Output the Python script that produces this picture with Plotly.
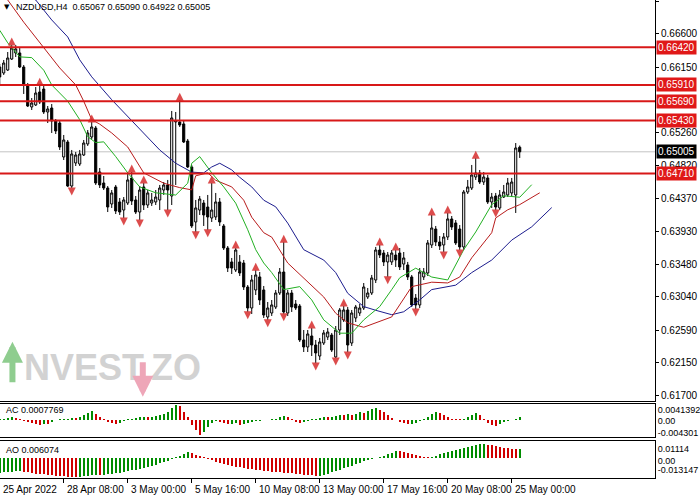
import plotly.graph_objects as go

# ---------------- data ----------------
opens = [0.66153, 0.66072, 0.66112, 0.66261, 0.66343, 0.66343, 0.66153, 0.65909, 0.65612, 0.65639,
         0.65815, 0.65855, 0.65544, 0.65598, 0.65422, 0.65395, 0.64935, 0.65138, 0.64542, 0.64854,
         0.64840, 0.64962, 0.65111, 0.65206, 0.65327, 0.64732, 0.64583, 0.64515, 0.64299, 0.64529,
         0.64326, 0.64217, 0.64312, 0.64651, 0.64353, 0.64190, 0.64529, 0.64285, 0.64312, 0.64326,
         0.64353, 0.64488, 0.64556, 0.64407, 0.65409, 0.65409, 0.65382, 0.65151, 0.64800, 0.64055,
         0.64217, 0.64312, 0.64258, 0.64109, 0.64123, 0.64326, 0.64001, 0.63703, 0.63514, 0.63405,
         0.63514, 0.63500, 0.63175, 0.62891, 0.63135, 0.63311, 0.63135, 0.62769, 0.62823, 0.62904,
         0.63094, 0.63378, 0.62823, 0.63094, 0.62945, 0.62918, 0.62458, 0.62363, 0.62512, 0.62390,
         0.62241, 0.62417, 0.62498, 0.62525, 0.62228, 0.62593, 0.62729, 0.62864, 0.62417, 0.62756,
         0.62823, 0.62891, 0.63040, 0.63094, 0.63270, 0.63676, 0.63635, 0.63514, 0.63514, 0.63608,
         0.63635, 0.63486, 0.63473, 0.63311, 0.63026, 0.62932, 0.63311, 0.63365, 0.63744, 0.63960,
         0.63784, 0.63744, 0.63852, 0.64096, 0.64042, 0.63960, 0.63717, 0.64461, 0.64515, 0.64664,
         0.64718, 0.64596, 0.64651, 0.64326, 0.64407, 0.64245, 0.64393, 0.64421, 0.64448, 0.64421,
         0.65067]
closes = [0.66018, 0.66207, 0.66275, 0.66410, 0.66397, 0.66153, 0.65909, 0.65625, 0.65666, 0.65801,
          0.65679, 0.65544, 0.65585, 0.65422, 0.65287, 0.65070, 0.65165, 0.64542, 0.64976, 0.64962,
          0.64976, 0.65124, 0.65260, 0.65341, 0.64583, 0.64556, 0.64515, 0.64258, 0.64448, 0.64204,
          0.64190, 0.64353, 0.64624, 0.64339, 0.64190, 0.64488, 0.64285, 0.64448, 0.64353, 0.64393,
          0.64515, 0.64556, 0.64488, 0.65463, 0.65422, 0.65368, 0.65138, 0.64800, 0.64001, 0.64245,
          0.64366, 0.64150, 0.64123, 0.64217, 0.64326, 0.64055, 0.63703, 0.63432, 0.63432, 0.63676,
          0.63365, 0.63175, 0.62891, 0.63270, 0.63338, 0.62999, 0.62796, 0.62891, 0.62932, 0.63094,
          0.63378, 0.62837, 0.63094, 0.62904, 0.62891, 0.62458, 0.62363, 0.62539, 0.62390, 0.62282,
          0.62431, 0.62553, 0.62566, 0.62322, 0.62593, 0.62864, 0.62864, 0.62390, 0.62823, 0.62904,
          0.62891, 0.63175, 0.63094, 0.63297, 0.63676, 0.63608, 0.63514, 0.63608, 0.63635, 0.63541,
          0.63446, 0.63568, 0.63311, 0.62932, 0.62932, 0.63378, 0.63378, 0.63771, 0.63974, 0.63784,
          0.63730, 0.63852, 0.64096, 0.63987, 0.63771, 0.63717, 0.64461, 0.64529, 0.64691, 0.64718,
          0.64596, 0.64664, 0.64326, 0.64393, 0.64258, 0.64421, 0.64461, 0.64583, 0.64596, 0.65057,
          0.65005]
highs = [0.66194, 0.66248, 0.66356, 0.66451, 0.66451, 0.66410, 0.66180, 0.65937, 0.65733, 0.65882,
         0.65909, 0.65896, 0.65625, 0.65652, 0.65449, 0.65422, 0.65233, 0.65165, 0.65030, 0.65003,
         0.65030, 0.65165, 0.65300, 0.65409, 0.65355, 0.64786, 0.64678, 0.64542, 0.64488, 0.64556,
         0.64380, 0.64393, 0.64732, 0.64732, 0.64407, 0.64542, 0.64583, 0.64488, 0.64448, 0.64488,
         0.64556, 0.64596, 0.64624, 0.65558, 0.65544, 0.65706, 0.65436, 0.65179, 0.64827, 0.64353,
         0.64407, 0.64353, 0.64421, 0.64583, 0.64448, 0.64380, 0.64028, 0.63730, 0.63568, 0.63703,
         0.63608, 0.63541, 0.63202, 0.63338, 0.63405, 0.63378, 0.63189, 0.62972, 0.62999, 0.63135,
         0.63432, 0.63784, 0.63135, 0.63135, 0.62999, 0.62945, 0.62593, 0.62593, 0.62620, 0.62458,
         0.62485, 0.62593, 0.62620, 0.62553, 0.62647, 0.62891, 0.62918, 0.62904, 0.62864, 0.62932,
         0.62945, 0.63229, 0.63162, 0.63338, 0.63717, 0.63744, 0.63676, 0.63649, 0.63676, 0.63676,
         0.63703, 0.63649, 0.63514, 0.63338, 0.63080, 0.63432, 0.63432, 0.63811, 0.64150, 0.64001,
         0.63865, 0.63906, 0.64177, 0.64136, 0.64082, 0.64014, 0.64488, 0.64624, 0.64827, 0.64921,
         0.64759, 0.64732, 0.64691, 0.64448, 0.64448, 0.64488, 0.64556, 0.64651, 0.64651, 0.65124,
         0.65090]
lows = [0.65896, 0.66045, 0.66099, 0.66248, 0.66288, 0.66140, 0.65788, 0.65612, 0.65571, 0.65625,
        0.65652, 0.65517, 0.65395, 0.65260, 0.65246, 0.65030, 0.64894, 0.64529, 0.64515, 0.64813,
        0.64813, 0.64948, 0.65084, 0.65179, 0.64556, 0.64515, 0.64488, 0.64190, 0.64245, 0.64163,
        0.64150, 0.64109, 0.64285, 0.64285, 0.64163, 0.64082, 0.64217, 0.64245, 0.64272, 0.64285,
        0.64217, 0.64421, 0.64217, 0.64285, 0.64556, 0.65341, 0.65124, 0.64786, 0.63974, 0.63920,
        0.64150, 0.64001, 0.63947, 0.64055, 0.64082, 0.64001, 0.63676, 0.63378, 0.63351, 0.63378,
        0.63324, 0.63135, 0.62837, 0.62810, 0.63067, 0.62932, 0.62756, 0.62729, 0.62783, 0.62877,
        0.63067, 0.62810, 0.62783, 0.62837, 0.62864, 0.62431, 0.62295, 0.62295, 0.62241, 0.62146,
        0.62187, 0.62390, 0.62458, 0.62295, 0.62214, 0.62525, 0.62701, 0.62295, 0.62377, 0.62701,
        0.62783, 0.62864, 0.63013, 0.63067, 0.63229, 0.63568, 0.63459, 0.63311, 0.63473, 0.63446,
        0.63405, 0.63405, 0.63270, 0.62904, 0.62877, 0.62891, 0.63270, 0.63324, 0.63703, 0.63730,
        0.63676, 0.63649, 0.63811, 0.63947, 0.63744, 0.63676, 0.63676, 0.64434, 0.64488, 0.64624,
        0.64569, 0.64556, 0.64299, 0.64245, 0.64217, 0.64217, 0.64380, 0.64393, 0.64407, 0.64177,
        0.64922]

# Alligator lines (bar index, price)
jaw_idx = [7, 9, 13, 17, 20, 23, 28, 32, 36, 40, 44, 48, 51, 53, 55, 58, 60, 63, 66, 69, 72, 76, 81, 84,
           87, 91, 94, 98, 101, 105, 108, 112, 114, 118, 123, 128, 133, 138]
jaw_val = [0.6713, 0.6706, 0.6679, 0.6656, 0.6625, 0.6602, 0.6571, 0.6548, 0.6526, 0.6503, 0.6485, 0.6473,
           0.6472, 0.6480, 0.6485, 0.6476, 0.6466, 0.6453, 0.6435, 0.6426, 0.6404, 0.6368, 0.6354, 0.6337,
           0.6309, 0.6291, 0.6286, 0.6280, 0.6284, 0.6300, 0.6314, 0.6318, 0.6320, 0.6337, 0.6354, 0.6381,
           0.6399, 0.6425]
teeth_idx = [0, 2, 6, 11, 15, 19, 21, 23, 25, 28, 32, 36, 41, 45, 48, 49, 52, 54, 58, 61, 63, 66, 68, 72,
             76, 81, 84, 87, 91, 94, 98, 103, 108, 112, 115, 118, 123, 124, 127, 130, 135]
teeth_val = [0.6725, 0.6706, 0.6676, 0.6642, 0.6614, 0.6591, 0.6569, 0.6544, 0.6538, 0.6526, 0.6507, 0.6472,
             0.6458, 0.6452, 0.6449, 0.6468, 0.6472, 0.6462, 0.6453, 0.6435, 0.6412, 0.6391, 0.6385, 0.6350,
             0.6330, 0.6304, 0.6282, 0.6269, 0.6263, 0.6269, 0.6277, 0.6318, 0.6324, 0.6323, 0.6331, 0.6357,
             0.6391, 0.6411, 0.6422, 0.6429, 0.6445]
lips_idx = [0, 2, 5, 8, 11, 13, 17, 20, 22, 24, 26, 29, 32, 35, 39, 44, 47, 48, 50, 52, 53, 56, 59, 62,
            64, 66, 68, 71, 75, 78, 81, 85, 88, 91, 95, 98, 100, 104, 108, 112, 116, 119, 123, 126, 130, 133]
lips_val = [0.6665, 0.6648, 0.6629, 0.6628, 0.6611, 0.6591, 0.6569, 0.6544, 0.6521, 0.6513, 0.6514, 0.6494,
            0.6472, 0.6453, 0.6445, 0.6442, 0.6458, 0.6485, 0.6494, 0.6479, 0.6472, 0.6453, 0.6431, 0.6395,
            0.6368, 0.6350, 0.6337, 0.6314, 0.6318, 0.6300, 0.6273, 0.6255, 0.6255, 0.6273, 0.6291, 0.6314,
            0.6330, 0.6343, 0.6331, 0.6327, 0.6368, 0.6392, 0.6429, 0.6441, 0.6439, 0.6456]

# Fractals (bar indices)
up_fractals = [3, 10, 23, 33, 36, 45, 53, 59, 64, 71, 78, 86, 95, 99, 108, 112, 119]
down_fractals = [18, 31, 35, 42, 49, 52, 62, 67, 71, 79, 84, 87, 97, 104, 111, 115, 124]

# Horizontal levels
levels = [0.66420, 0.65910, 0.65690, 0.65430, 0.64710]
last_price = 0.65005

# Accelerator oscillator
ac_vals = [0.0002, 0.0004, 0.0006, 0.0008, 0.0006, 0.0003, -0.0002, -0.0005, -0.0008, -0.0010,
           -0.0012, -0.0009, -0.0011, -0.0004, 0.0000, 0.0002, 0.0003, 0.0004, 0.0006, 0.0005,
           0.0009, 0.0014, 0.0019, 0.0023, 0.0017, 0.0009, 0.0002, -0.0004, -0.0008, -0.0010,
           -0.0007, -0.0003, 0.0002, 0.0004, 0.0006, 0.0007, 0.0008, 0.0007, 0.0009, 0.0011,
           0.0012, 0.0016, 0.0021, 0.0030, 0.0038, 0.0036, 0.0022, 0.0008, -0.0012, -0.0026,
           -0.0038, -0.0030, -0.0018, -0.0006, -0.0002, -0.0004, -0.0008, -0.0011, -0.0010, -0.0008,
           -0.0012, -0.0010, -0.0007, -0.0004, -0.0002, -0.0001, 0.0001, 0.0000, 0.0002, 0.0004,
           0.0008, 0.0011, 0.0007, 0.0002, -0.0004, -0.0008, -0.0005, -0.0002, 0.0002, 0.0004,
           0.0006, 0.0008, 0.0007, 0.0009, 0.0011, 0.0013, 0.0012, 0.0015, 0.0013, 0.0017,
           0.0020, 0.0019, 0.0024, 0.0028, 0.0031, 0.0027, 0.0021, 0.0014, 0.0006, 0.0001,
           -0.0004, -0.0008, -0.0011, -0.0009, -0.0006, -0.0003, 0.0002, 0.0009, 0.0016, 0.0022,
           0.0018, 0.0012, 0.0007, 0.0004, 0.0003, 0.0002, 0.0004, 0.0009, 0.0014, 0.0019,
           0.0013, 0.0003, -0.0007, -0.0013, -0.0016, -0.0010, -0.0005, -0.0002, 0.0001, 0.0004,
           0.0007769]

# Awesome oscillator
ao_vals = [-0.0098, -0.0095, -0.0092, -0.0090, -0.0088, -0.0087, -0.0090, -0.0095, -0.0099, -0.0102,
           -0.0104, -0.0107, -0.0110, -0.0113, -0.0116, -0.0118, -0.0120, -0.0122, -0.0124, -0.0125,
           -0.0123, -0.0121, -0.0118, -0.0114, -0.0112, -0.0113, -0.0111, -0.0108, -0.0104, -0.0100,
           -0.0096, -0.0092, -0.0086, -0.0080, -0.0076, -0.0070, -0.0063, -0.0057, -0.0050, -0.0043,
           -0.0036, -0.0028, -0.0020, -0.0008, 0.0005, 0.0015, 0.0026, 0.0036, 0.0031, 0.0022,
           0.0012, 0.0004, -0.0008, -0.0016, -0.0024, -0.0031, -0.0038, -0.0045, -0.0051, -0.0056,
           -0.0061, -0.0066, -0.0071, -0.0075, -0.0078, -0.0081, -0.0084, -0.0087, -0.0090, -0.0092,
           -0.0094, -0.0097, -0.0099, -0.0101, -0.0104, -0.0107, -0.0110, -0.0112, -0.0115, -0.0117,
           -0.0116, -0.0110, -0.0102, -0.0094, -0.0086, -0.0077, -0.0068, -0.0059, -0.0050, -0.0041,
           -0.0032, -0.0023, -0.0015, -0.0008, -0.0002, 0.0006, 0.0015, 0.0025, 0.0035, 0.0046,
           0.0044, 0.0040, 0.0035, 0.0028, 0.0020, 0.0012, 0.0006, 0.0004, 0.0009, 0.0016,
           0.0024, 0.0031, 0.0038, 0.0045, 0.0052, 0.0058, 0.0064, 0.0071, 0.0078, 0.0085,
           0.0090, 0.0092, 0.0088, 0.0083, 0.0078, 0.0072, 0.0067, 0.0063, 0.0060, 0.0057,
           0.006074]

price_ticks = [0.67040, 0.66600, 0.66150, 0.65260, 0.64820, 0.64370, 0.63930, 0.63480,
               0.63040, 0.62590, 0.62150, 0.61700]
date_tick_idx = [0, 16, 32, 48, 64, 80, 96, 112, 128]
date_labels = ["25 Apr 2022", "28 Apr 08:00", "3 May 00:00", "5 May 16:00", "10 May 08:00",
               "13 May 00:00", "17 May 16:00", "20 May 08:00", "25 May 00:00"]
symbol = "NZDUSD,H4"

# ---------------- figure ----------------
n = len(opens)
idx = list(range(n))
FONT = "Liberation Sans, Arial, sans-serif"
GREEN = "#008c00"
RED = "#d00000"
FR_OFF = 0.0010
xr = [0.07, 163.82]

fig = go.Figure()
fig.add_trace(go.Candlestick(
    x=idx, open=opens, high=highs, low=lows, close=closes,
    increasing=dict(fillcolor="white", line=dict(color="black", width=1)),
    decreasing=dict(fillcolor="black", line=dict(color="black", width=1)),
    whiskerwidth=0, showlegend=False, hoverinfo="skip", xaxis="x", yaxis="y"))

for xs, ys, col in [(jaw_idx, jaw_val, "#1c1c8e"), (teeth_idx, teeth_val, "#b81c1c"),
                    (lips_idx, lips_val, "#22b022")]:
    fig.add_trace(go.Scatter(x=xs, y=ys, mode="lines", line=dict(color=col, width=1),
                             showlegend=False, hoverinfo="skip", xaxis="x", yaxis="y"))

fig.add_trace(go.Scatter(
    x=up_fractals, y=[highs[i] + FR_OFF for i in up_fractals], mode="markers",
    marker=dict(symbol="arrow-up", size=8, color="#d83838", opacity=0.9, line=dict(width=0)),
    showlegend=False, hoverinfo="skip", xaxis="x", yaxis="y"))
fig.add_trace(go.Scatter(
    x=down_fractals, y=[lows[i] - FR_OFF for i in down_fractals], mode="markers",
    marker=dict(symbol="arrow-down", size=8, color="#d83838", opacity=0.9, line=dict(width=0)),
    showlegend=False, hoverinfo="skip", xaxis="x", yaxis="y"))


def osc_colors(vals):
    cols = [GREEN]
    for k in range(1, len(vals)):
        cols.append(GREEN if vals[k] > vals[k - 1] else RED)
    return cols


fig.add_trace(go.Bar(x=idx, y=ac_vals, width=0.4,
                     marker=dict(color=osc_colors(ac_vals), line=dict(width=0)),
                     showlegend=False, hoverinfo="skip", xaxis="x2", yaxis="y2"))
fig.add_trace(go.Bar(x=idx, y=ao_vals, width=0.4,
                     marker=dict(color=osc_colors(ao_vals), line=dict(width=0)),
                     showlegend=False, hoverinfo="skip", xaxis="x3", yaxis="y3"))

shapes = []
shapes.append(dict(type="line", xref="x domain", x0=0, x1=1, yref="y", y0=last_price, y1=last_price,
                   line=dict(color="#c4c4c4", width=1), layer="below"))
for lv in levels:
    shapes.append(dict(type="line", xref="x domain", x0=0, x1=1, yref="y", y0=lv, y1=lv,
                       line=dict(color="#d81818", width=2)))

annotations = []
for lv in levels:
    annotations.append(dict(xref="paper", x=1, xanchor="left", xshift=1, yref="y", y=lv,
                            text=f"{lv:.5f}", showarrow=False, bgcolor="#e01818",
                            font=dict(family=FONT, size=10, color="white"), borderpad=1))
annotations.append(dict(xref="paper", x=1, xanchor="left", xshift=1, yref="y", y=last_price,
                        text=f"{last_price:.5f}", showarrow=False, bgcolor="black",
                        font=dict(family=FONT, size=10, color="white"), borderpad=1))
annotations.append(dict(xref="paper", yref="paper", x=0.021, y=0.985, xanchor="left", yanchor="middle",
                        text=f"{symbol}  {opens[-1]:.5f} {highs[-1]:.5f} {lows[-1]:.5f} {closes[-1]:.5f}",
                        showarrow=False, font=dict(family=FONT, size=9, color="black")))
annotations.append(dict(xref="paper", yref="paper", x=0.003, y=0.985, xanchor="left", yanchor="middle",
                        text="▼", showarrow=False, font=dict(family="DejaVu Sans", size=7, color="black")))
annotations.append(dict(xref="paper", yref="paper", x=0.006, y=0.142, xanchor="left", yanchor="middle",
                        text=f"AC {ac_vals[-1]:.7f}", showarrow=False,
                        font=dict(family=FONT, size=9, color="black")))
annotations.append(dict(xref="paper", yref="paper", x=0.006, y=0.0586, xanchor="left", yanchor="middle",
                        text=f"AO {ao_vals[-1]:.6f}", showarrow=False,
                        font=dict(family=FONT, size=9, color="black")))
for ti, tl in zip(date_tick_idx, date_labels):
    annotations.append(dict(xref="x3", yref="paper", x=max(ti, xr[0] + 0.01), y=-0.025, xanchor="left",
                            yanchor="middle", xshift=1, text=tl, showarrow=False,
                            font=dict(family=FONT, size=10, color="black")))

# watermark
annotations.append(dict(xref="paper", yref="paper", x=0.033, y=0.232, xanchor="left", yanchor="middle",
                        text="<b>NVEST</b>", showarrow=False,
                        font=dict(family=FONT, size=36, color="#d2d2d2")))
annotations.append(dict(xref="paper", yref="paper", x=0.228, y=0.232, xanchor="left", yanchor="middle",
                        text="<b>ZO</b>", showarrow=False,
                        font=dict(family=FONT, size=36, color="#d2d2d2")))
annotations.append(dict(xref="paper", yref="paper", x=0.019, y=0.285, ax=0, ay=42, text="",
                        showarrow=True, arrowhead=2, arrowsize=0.7, arrowwidth=6, arrowcolor="#8fcd8f"))
annotations.append(dict(xref="paper", yref="paper", x=0.218, y=0.17, ax=0, ay=-36, text="",
                        showarrow=True, arrowhead=2, arrowsize=0.7, arrowwidth=6, arrowcolor="#eea6b8"))

axis_common = dict(showgrid=False, zeroline=False, linecolor="black", linewidth=1)
sub_font = dict(family=FONT, size=9, color="black")
fig.update_layout(
    width=700, height=500, margin=dict(l=0, r=45, t=0, b=22),
    paper_bgcolor="white", plot_bgcolor="white", showlegend=False,
    boxgap=0.25, bargap=0,
    font=dict(family=FONT, size=10, color="black"),
    xaxis=dict(domain=[0, 1], range=xr, anchor="y", showticklabels=False, ticks="",
               showline=True, rangeslider=dict(visible=False), **axis_common),
    yaxis=dict(domain=[0.1611, 1], range=[0.61632, 0.6706], side="right", anchor="x",
               tickvals=price_ticks, ticktext=[f"{t:.5f}" for t in price_ticks],
               ticks="outside", ticklen=3, tickcolor="black", showline=True, **axis_common),
    xaxis2=dict(domain=[0, 1], range=xr, matches="x", anchor="y2", showticklabels=False, ticks="",
                showline=True, mirror=True, **axis_common),
    yaxis2=dict(domain=[0.0858, 0.1548], range=[-0.004301, 0.0041392], side="right", anchor="x2",
                tickvals=[0.0027, -0.0002, -0.0032], ticktext=["0.0041392", "0.00", "-0.004301"],
                tickfont=sub_font, ticks="", showline=True, mirror=True, **axis_common),
    xaxis3=dict(domain=[0, 1], range=xr, matches="x", anchor="y3", showticklabels=False,
                tickvals=date_tick_idx, ticks="outside", ticklen=4, tickcolor="black",
                showline=True, mirror=True, **axis_common),
    yaxis3=dict(domain=[0, 0.0774], range=[-0.013147, 0.01114], side="right", anchor="x3",
                tickvals=[0.0062, -0.0016, -0.0078], ticktext=["0.01114", "0.00", "-0.013147"],
                tickfont=sub_font, ticks="", showline=True, mirror=True, **axis_common),
    shapes=shapes, annotations=annotations,
)

fig.write_html("out.html", config={"displayModeBar": False, "staticPlot": True},
               post_script="document.body.style.margin='0';document.body.style.overflow='hidden';")
